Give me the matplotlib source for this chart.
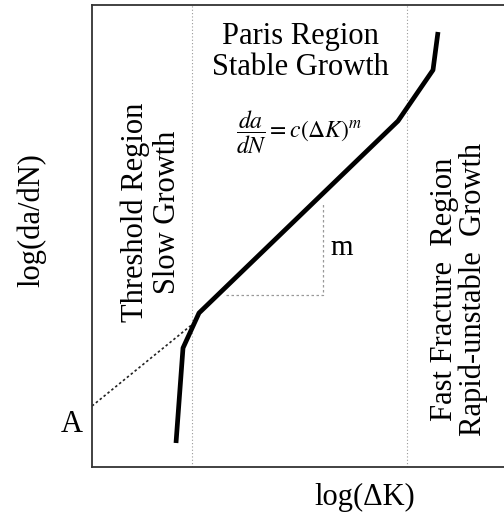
import matplotlib.pyplot as plt

plt.rcParams['font.family'] = ['Liberation Serif', 'DejaVu Serif']
plt.rcParams['mathtext.fontset'] = 'stix'

# crack growth curve, log(dK) vs log(da/dN) in chart units (y grows downward)
curve_x = [176, 183, 199, 398, 433, 438]
curve_y = [443, 348, 313, 121, 70, 32]

# Paris-law extrapolation down to intercept A
extrap_x = [92, 194]
extrap_y = [406, 323]

# slope triangle
tri_x = [226, 323, 323]
tri_y = [295, 295, 204]

# region boundaries
bounds_x = [192, 407]

fig = plt.figure(figsize=(5.04, 5.24), dpi=100)
ax = fig.add_axes([92 / 504, (524 - 467) / 524, (504 - 92) / 504, (467 - 5) / 524])
ax.set_xlim(92, 504)
ax.set_ylim(467, 5)

for bx in bounds_x:
    ax.axvline(bx, color='#999999', lw=0.8, ls=(0, (1, 2)))

ax.plot(extrap_x, extrap_y, color='#222222', lw=1.2, ls=(0, (1.5, 1.5)))
ax.plot(tri_x, tri_y, color='#999999', lw=0.9, ls=(0, (2, 2)))
ax.plot(curve_x, curve_y, color='black', lw=3.4, solid_joinstyle='round', solid_capstyle='butt')

ax.text(300, 52, 'Paris Region\nStable Growth', ha='center', va='center', fontsize=22, linespacing=1.1)
ax.text(299, 132, r'$\dfrac{da}{dN}=c(\Delta K)^m$', ha='center', va='center', fontsize=17)
ax.text(342, 248, 'm', ha='center', va='center', fontsize=21)
ax.text(151, 212, 'Threshold Region\nSlow Growth', ha='center', va='center', rotation=90,
        fontsize=22, linespacing=1.15)
ax.text(459, 289, 'Fast Fracture  Region\nRapid-unstable  Growth', ha='center', va='center',
        rotation=90, fontsize=22, linespacing=1.0)
ax.text(72, 425, 'A', ha='center', va='center', fontsize=22, clip_on=False)

ax.set_xticks([])
ax.set_yticks([])
ax.spines['right'].set_visible(False)
for s in ['left', 'top', 'bottom']:
    ax.spines[s].set_color('#333333')
    ax.spines[s].set_linewidth(1.3)

fig.text(32 / 504, 1 - 220 / 524, 'log(da/dN)', rotation=90, ha='center', va='center', fontsize=22)
fig.text(365 / 504, 1 - 497 / 524, 'log(\u0394K)', ha='center', va='center', fontsize=22)

fig.savefig('out.png', dpi=100)
